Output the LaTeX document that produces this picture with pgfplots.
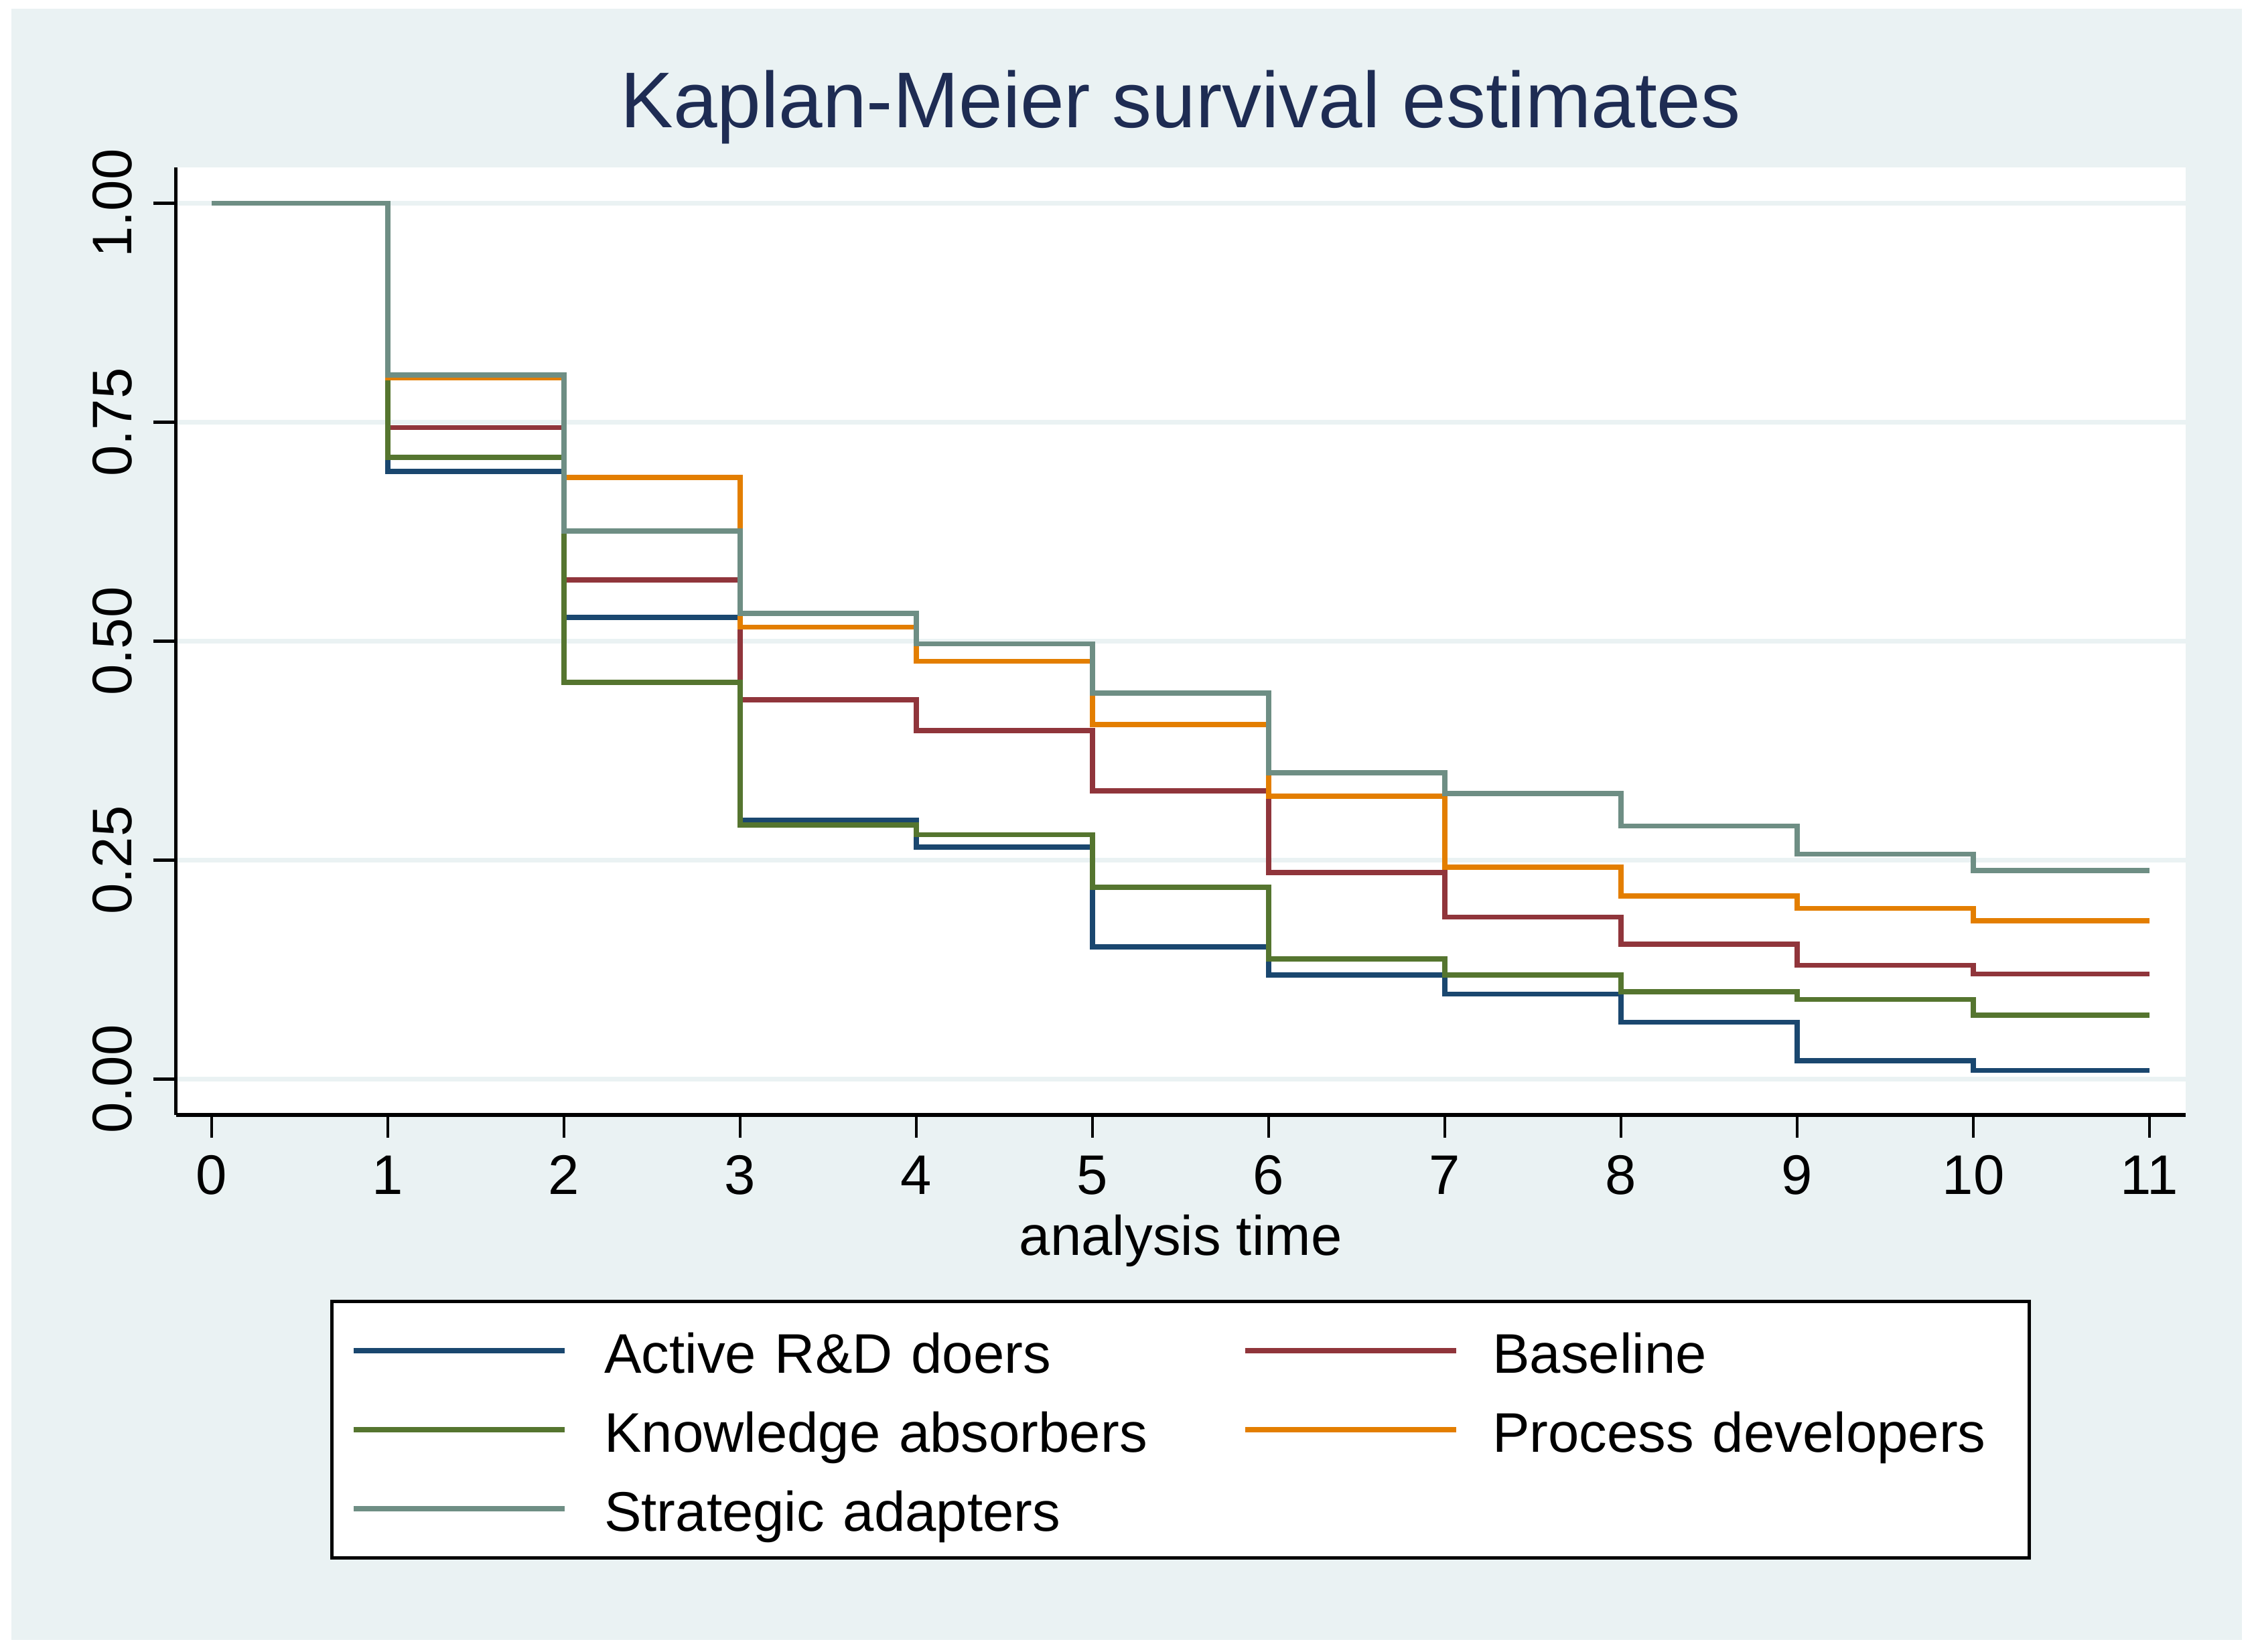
\documentclass[border=0pt]{standalone}
\usepackage{fontspec}
\setmainfont{Liberation Sans}
\usepackage{pgfplots}
\pgfplotsset{compat=1.18}
\definecolor{bgc}{HTML}{EAF2F3}
\definecolor{titc}{HTML}{1E2C53}
\definecolor{cnavy}{HTML}{1A476F}
\definecolor{cmaroon}{HTML}{90353B}
\definecolor{cgreen}{HTML}{55752F}
\definecolor{corange}{HTML}{E37E00}
\definecolor{cteal}{HTML}{6E8E84}
\begin{document}
\begin{tikzpicture}
\fill[white] (0,0) rectangle (1010.4pt,739.8pt);
\fill[bgc] (5.1pt,5.1pt) rectangle (1004.1pt,735.75pt);
\begin{axis}[
  at={(78.81pt,240.3pt)}, anchor=south west,
  scale only axis, width=900pt, height=424.5pt,
  xmin=-0.203, xmax=11.204, ymin=-0.0409, ymax=1.041,
  axis x line*=bottom, axis y line*=left,
  axis line style={line width=1.6pt, black},
  axis background/.style={fill=white},
  xtick={0,...,11}, ytick={0,0.25,0.5,0.75,1},
  yticklabels={0.00,0.25,0.50,0.75,1.00},
  tick align=outside, major tick length=10.2pt,
  every tick/.style={black, line width=1.4pt},
  ymajorgrids, major grid style={bgc, line width=2.3pt},
  tick label style={font=\fontsize{25}{30}\selectfont},
  /pgf/number format/assume math mode=true,
  yticklabel style={rotate=90, anchor=south},
  xticklabel shift=4.5pt,
  yticklabel shift=6pt,
  title={Kaplan-Meier survival estimates},
  title style={at={(0.5,1)}, anchor=base, yshift=11.8pt, font=\fontsize{35.4}{42}\selectfont, text=titc},
  xlabel={analysis time},
  xlabel style={at={(0.5,0)}, anchor=base, yshift=-62.85pt, font=\fontsize{25}{30}\selectfont},
  legend columns=2,
  legend cell align=left,
  legend image code/.code={\draw[#1] (0pt,0pt) -- (94.5pt,0pt);},
  legend style={at={(0.5,-0.1947)}, anchor=north, draw=black, line width=1.5pt, fill=white,
    inner xsep=8.7pt, inner ysep=8.1pt, row sep=7.4pt, font=\fontsize{25}{30}\selectfont,
    nodes={inner sep=0pt, text height=24pt, text depth=4pt},
    /tikz/column 1/.style={column sep=16.5pt},
    /tikz/column 2/.style={nodes={text width=286pt}},
    /tikz/column 3/.style={column sep=15pt},
    /tikz/column 4/.style={nodes={text width=231.8pt}}},
]
\addplot[const plot, cnavy, line width=2.3pt] coordinates {(0,1) (1,0.694) (2,0.527) (3,0.296) (4,0.265) (5,0.151) (6,0.119) (7,0.097) (8,0.065) (9,0.021) (10,0.010) (11,0.010)};
\addlegendentry{Active R\&D doers}
\addplot[const plot, cmaroon, line width=2.3pt] coordinates {(0,1) (1,0.744) (2,0.570) (3,0.433) (4,0.398) (5,0.329) (6,0.236) (7,0.185) (8,0.154) (9,0.130) (10,0.120) (11,0.120)};
\addlegendentry{Baseline}
\addplot[const plot, cgreen, line width=2.3pt] coordinates {(0,1) (1,0.710) (2,0.453) (3,0.290) (4,0.279) (5,0.219) (6,0.137) (7,0.119) (8,0.100) (9,0.091) (10,0.073) (11,0.073)};
\addlegendentry{Knowledge absorbers}
\addplot[const plot, corange, line width=2.3pt] coordinates {(0,1) (1,0.801) (2,0.687) (3,0.516) (4,0.477) (5,0.405) (6,0.323) (7,0.242) (8,0.209) (9,0.195) (10,0.181) (11,0.181)};
\addlegendentry{Process developers}
\addplot[const plot, cteal, line width=2.3pt] coordinates {(0,1) (1,0.804) (2,0.626) (3,0.532) (4,0.497) (5,0.441) (6,0.350) (7,0.326) (8,0.289) (9,0.257) (10,0.238) (11,0.238)};
\addlegendentry{Strategic adapters}
\end{axis}
\pgfresetboundingbox
\useasboundingbox (0,0) rectangle (1010.4pt,739.8pt);
\end{tikzpicture}
\end{document}
